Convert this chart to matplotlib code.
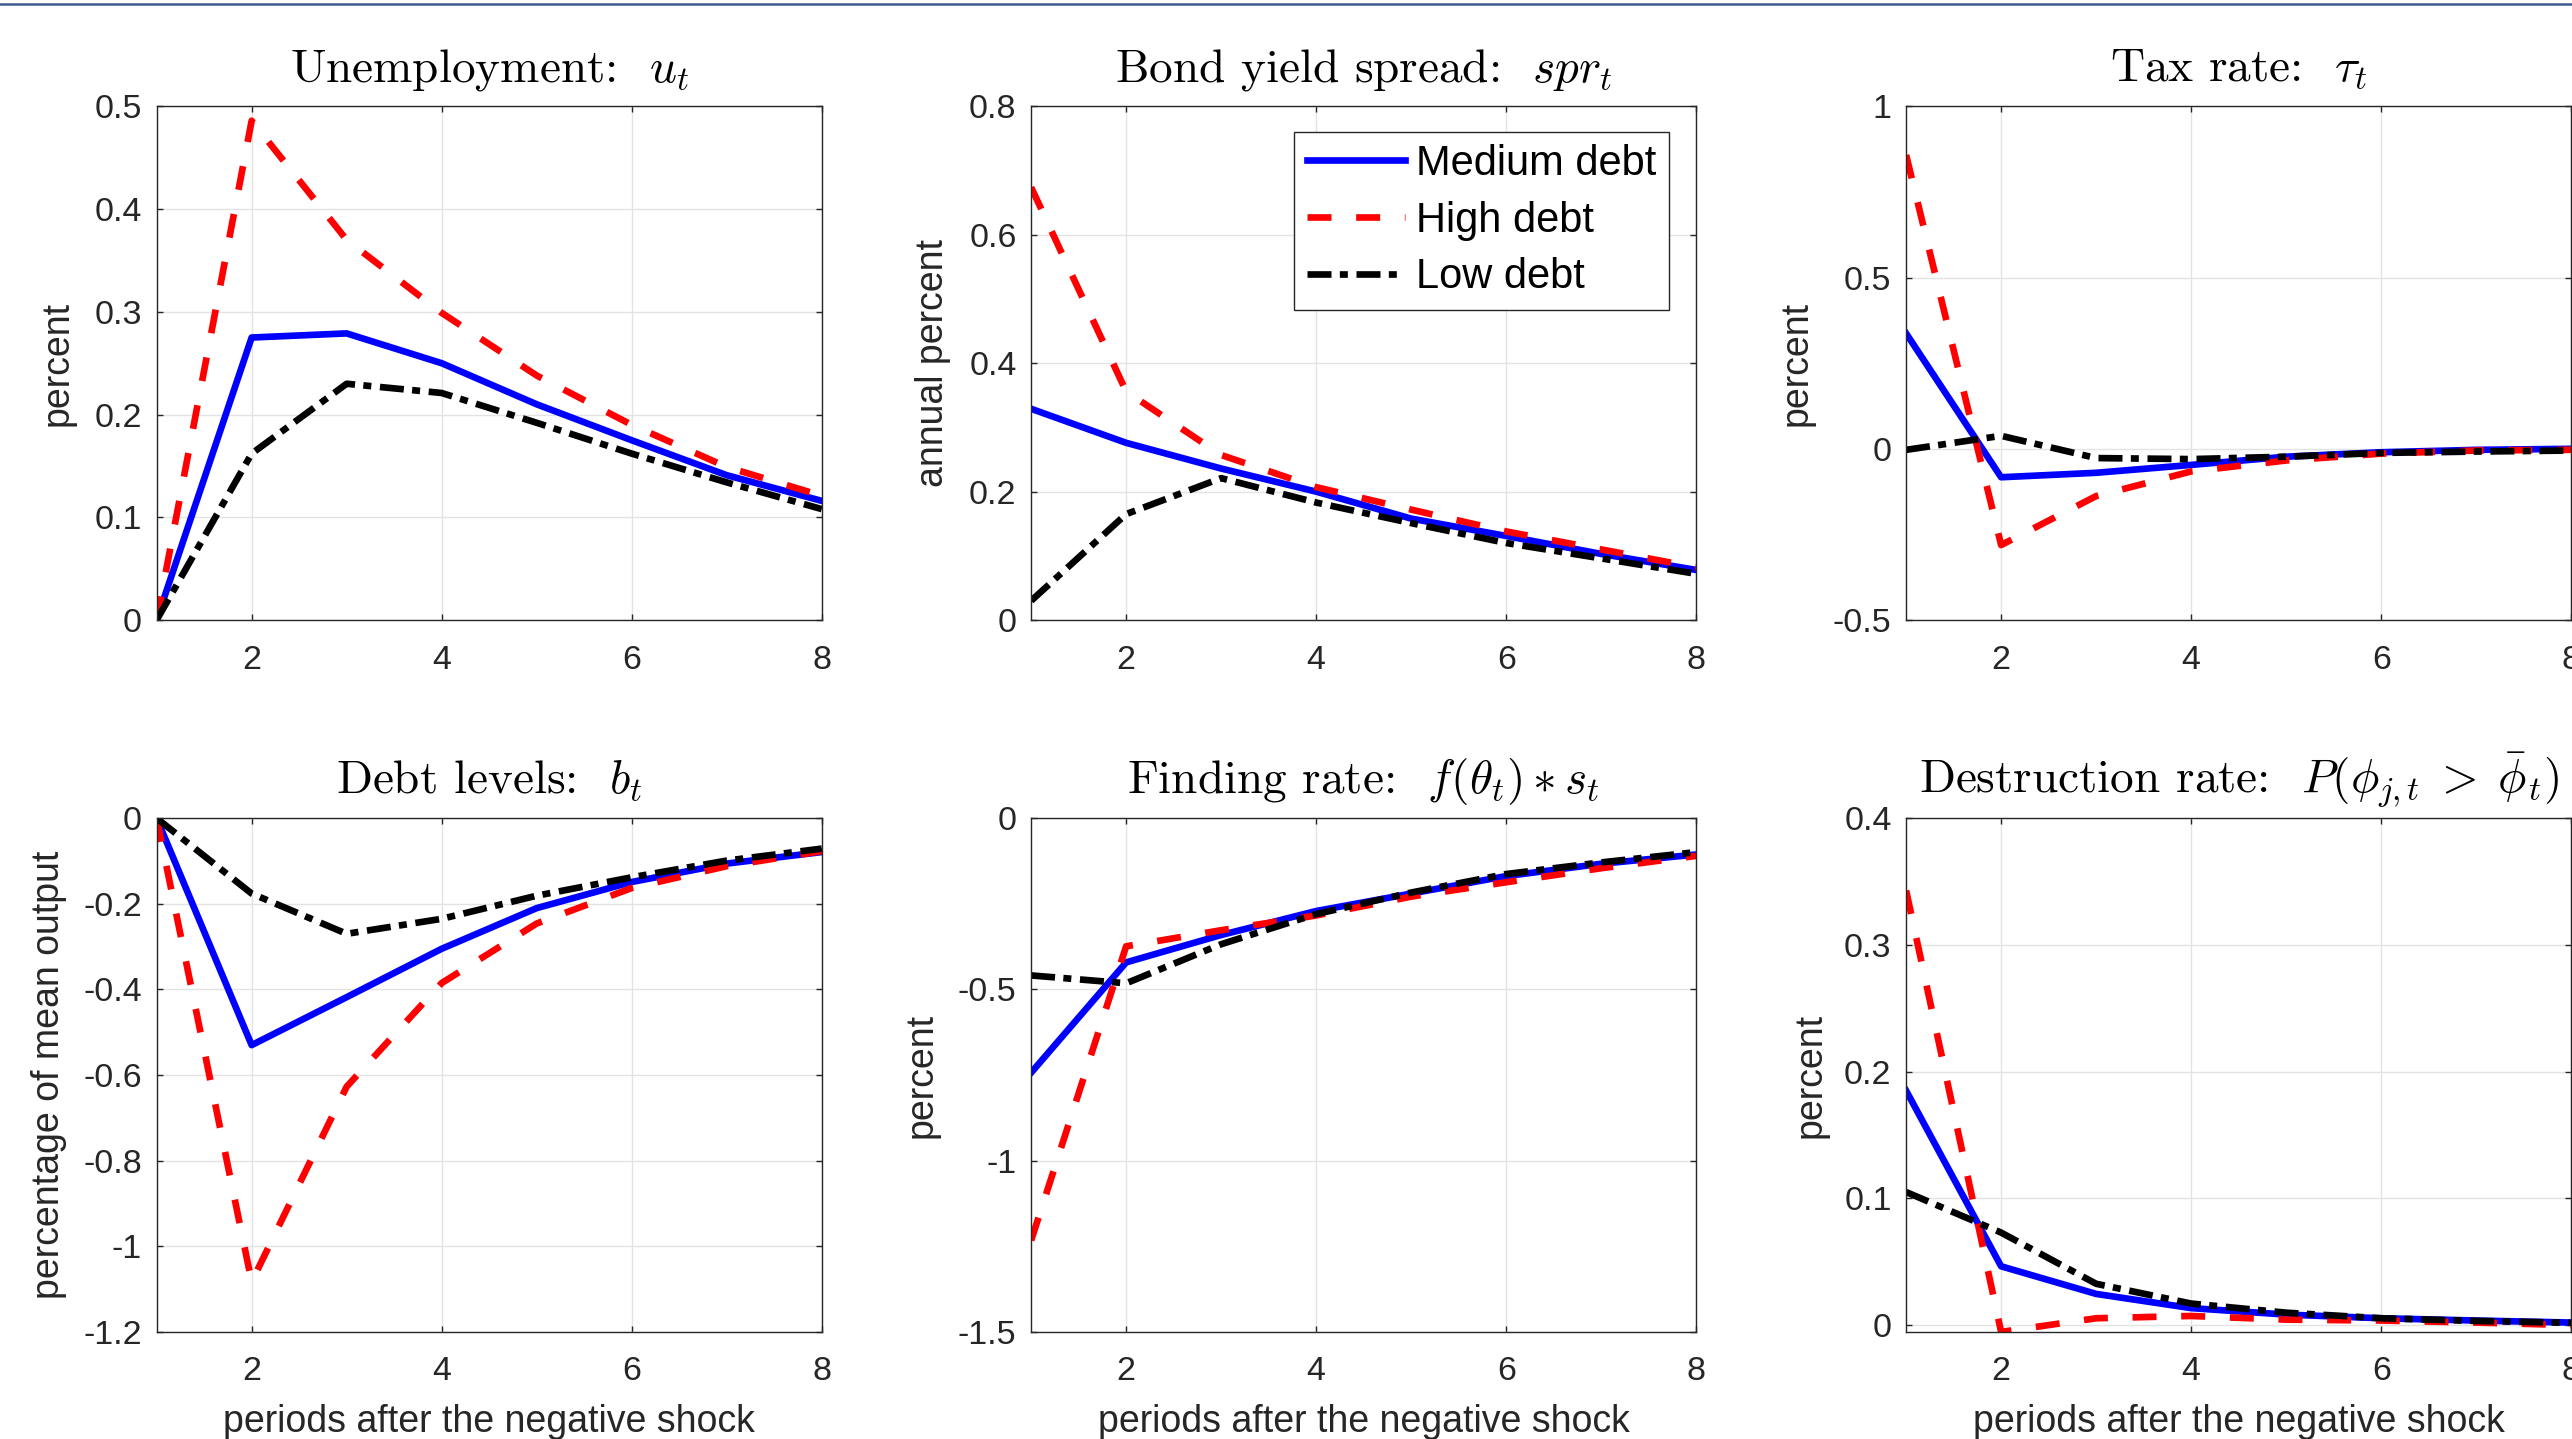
import matplotlib
matplotlib.use("Agg")
import matplotlib.pyplot as plt
from matplotlib.lines import Line2D

plt.rcParams["font.family"] = ["Liberation Sans", "DejaVu Sans"]
plt.rcParams["mathtext.fontset"] = "cm"

##### data #####
periods = [1, 2, 3, 4, 5, 6, 7, 8]
series_names = ["Medium debt", "High debt", "Low debt"]

# unemployment u_t
u_medium = [0.0, 0.275, 0.279, 0.250, 0.210, 0.175, 0.141, 0.116]
u_high = [0.0, 0.486, 0.370, 0.299, 0.238, 0.190, 0.149, 0.121]
u_low = [0.0, 0.162, 0.230, 0.221, 0.192, 0.162, 0.134, 0.108]
# bond yield spread spr_t
spr_medium = [0.329, 0.276, 0.236, 0.200, 0.158, 0.131, 0.103, 0.078]
spr_high = [0.674, 0.356, 0.257, 0.207, 0.172, 0.138, 0.110, 0.082]
spr_low = [0.030, 0.165, 0.221, 0.183, 0.151, 0.120, 0.096, 0.072]
# tax rate tau_t
tax_medium = [0.337, -0.083, -0.070, -0.047, -0.023, -0.010, -0.003, 0.0]
tax_high = [0.858, -0.281, -0.138, -0.066, -0.034, -0.014, -0.005, -0.003]
tax_low = [-0.003, 0.038, -0.027, -0.030, -0.023, -0.012, -0.008, -0.005]
# debt levels b_t
debt_medium = [0.0, -0.530, -0.418, -0.305, -0.210, -0.149, -0.106, -0.079]
debt_high = [0.0, -1.083, -0.627, -0.385, -0.246, -0.163, -0.112, -0.077]
debt_low = [0.0, -0.176, -0.270, -0.235, -0.181, -0.138, -0.099, -0.071]
# finding rate f(theta_t)*s_t
find_medium = [-0.743, -0.421, -0.341, -0.271, -0.220, -0.169, -0.133, -0.106]
find_high = [-1.233, -0.374, -0.327, -0.284, -0.229, -0.187, -0.146, -0.110]
find_low = [-0.459, -0.482, -0.368, -0.280, -0.217, -0.163, -0.129, -0.099]
# destruction rate
destr_medium = [0.185, 0.0464, 0.0246, 0.0134, 0.0083, 0.0054, 0.0036, 0.0020]
destr_high = [0.343, -0.0054, 0.0054, 0.0072, 0.0043, 0.0036, 0.0020, 0.0]
destr_low = [0.105, 0.073, 0.0326, 0.017, 0.0098, 0.0054, 0.0033, 0.0018]

titles = [
    r"Unemployment:  $u_t$",
    r"Bond yield spread:  $spr_t$",
    r"Tax rate:  $\tau_t$",
    r"Debt levels:  $b_t$",
    r"Finding rate:  $f(\theta_t) * s_t$",
    r"Destruction rate:  $P(\phi_{j,t}\;>\;\bar{\phi}_t)$",
]
ylabels = ["percent", "annual percent", "percent",
           "percentage of mean output", "percent", "percent"]
xlabel = "periods after the negative shock"
yticks = [
    [0, 0.1, 0.2, 0.3, 0.4, 0.5],
    [0, 0.2, 0.4, 0.6, 0.8],
    [-0.5, 0, 0.5, 1],
    [-1.2, -1, -0.8, -0.6, -0.4, -0.2, 0],
    [-1.5, -1, -0.5, 0],
    [0, 0.1, 0.2, 0.3, 0.4],
]
yticklabels = [
    ["0", "0.1", "0.2", "0.3", "0.4", "0.5"],
    ["0", "0.2", "0.4", "0.6", "0.8"],
    ["-0.5", "0", "0.5", "1"],
    ["-1.2", "-1", "-0.8", "-0.6", "-0.4", "-0.2", "0"],
    ["-1.5", "-1", "-0.5", "0"],
    ["0", "0.1", "0.2", "0.3", "0.4"],
]
ylims = [(0, 0.5), (0, 0.8), (-0.5, 1), (-1.2, 0), (-1.5, 0), (-0.0054, 0.4)]
xticks = [2, 4, 6, 8]

panels = [
    (u_medium, u_high, u_low),
    (spr_medium, spr_high, spr_low),
    (tax_medium, tax_high, tax_low),
    (debt_medium, debt_high, debt_low),
    (find_medium, find_high, find_low),
    (destr_medium, destr_high, destr_low),
]

##### styling #####
dark = "#262626"
lw = 4.8
styles = [
    dict(color="#0000ff", linestyle="-"),
    dict(color="#ff0000", linestyle=(0, (3.6, 3.7))),
    dict(color="#000000", linestyle=(0, (3.6, 1.25, 1.2, 1.3))),
]
lefts = [0.0609, 0.4009, 0.7411]
bottoms = [0.5691, 0.0744]
width, height = 0.2586, 0.3570
ylabel_x = [-0.122, -0.120, -0.137, -0.135, -0.137, -0.117]

fig = plt.figure(figsize=(25.72, 14.39), dpi=100)

# thin rule across the top of the page
fig.add_artist(Line2D([0, 1], [0.997, 0.997], transform=fig.transFigure,
                      color="#3d5b8e", linewidth=1.8))

for k in range(6):
    row, col = divmod(k, 3)
    ax = fig.add_axes([lefts[col], bottoms[row], width, height])
    for vals, name, st in zip(panels[k], series_names, styles):
        ax.plot(periods, vals, linewidth=lw, label=name, **st)
    ax.set_xlim(1, 8)
    ax.set_ylim(*ylims[k])
    ax.set_xticks(xticks)
    ax.set_xticklabels([str(t) for t in xticks])
    ax.set_yticks(yticks[k])
    ax.set_yticklabels(yticklabels[k])
    ax.grid(True, color="#e3e3e3", linewidth=1.0)
    ax.set_axisbelow(True)
    for sp in ax.spines.values():
        sp.set_color(dark)
        sp.set_linewidth(1.0)
    ax.tick_params(direction="in", length=4.1, width=1.0, top=True, right=True,
                   labelsize=24.5, colors=dark)
    ax.tick_params(axis="x", pad=17.6)
    ax.tick_params(axis="y", pad=10.5)
    ax.set_title(titles[k], fontsize=34, family="cmr10", pad=18, color="black")
    ax.set_ylabel(ylabels[k], fontsize=27, color=dark)
    ax.yaxis.set_label_coords(ylabel_x[k], 0.5)
    if row == 1:
        ax.set_xlabel(xlabel, fontsize=27, color=dark)
        ax.xaxis.set_label_coords(0.5, -0.14)
    if k == 1:
        leg = ax.legend(loc="upper right", bbox_to_anchor=(0.959, 0.951),
                        borderaxespad=0, fontsize=30, handlelength=2.35,
                        handletextpad=0.28, borderpad=0.3, labelspacing=0.40,
                        fancybox=False, framealpha=1, edgecolor=dark)
        leg.get_frame().set_linewidth(1.0)

fig.savefig("out.png", dpi=100)
